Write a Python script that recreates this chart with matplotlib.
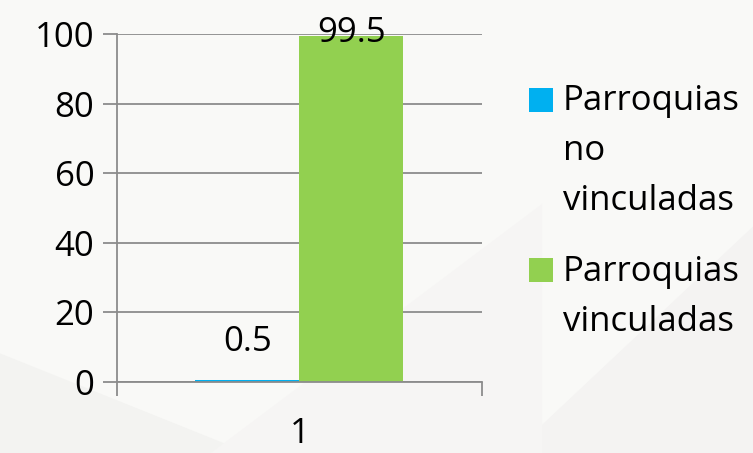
import matplotlib.pyplot as plt
import matplotlib.patches as mpatches
import numpy as np

categories = ["1"]
series_names = ["Parroquias\nno\nvinculadas", "Parroquias\nvinculadas"]
series_values = [[0.5], [99.5]]
series_colors = ["#00b0f0", "#92d050"]
y_ticks = [0, 20, 40, 60, 80, 100]

plt.rcParams["font.family"] = ["Open Sans", "DejaVu Sans"]
fig = plt.figure(figsize=(7.53, 4.53), dpi=100, facecolor="#f9f9f7")

# faint background shapes, behind everything
for pts, col in [
    ([(0.0, 0.0), (0.0, 0.22), (0.33, 0.0)], "#f3f3f1"),
    ([(0.68, 0.0), (1.0, 0.5), (1.0, 0.0)], "#f4f3f2"),
    ([(0.28, 0.0), (0.72, 0.55), (0.72, 0.0)], "#f6f5f4"),
]:
    fig.patches.append(mpatches.Polygon(pts, closed=True, transform=fig.transFigure,
                                        facecolor=col, edgecolor="none", zorder=-5))

ax = fig.add_axes([0.155, 0.157, 0.485, 0.768])
ax.set_facecolor("none")

x = np.arange(1, len(categories) + 1)
w = 0.285
for i, (vals, col) in enumerate(zip(series_values, series_colors)):
    pos = x - w / 2 + i * w
    bars = ax.bar(pos, vals, width=w, color=col, zorder=3)
    for b, v in zip(bars, vals):
        ax.text(b.get_x() + b.get_width() / 2, v + 6 if v < 90 else v - 4, f"{v:g}",
                ha="center", va="bottom", fontsize=25, zorder=4)

ax.set_xlim(0.5, len(categories) + 0.5)
ax.set_ylim(0, 100)
ax.set_yticks(y_ticks)
ax.yaxis.grid(True, color="#8c8c8c", linewidth=1.3, zorder=1)
ax.set_xticks(x)
ax.set_xticklabels(categories)
ax.set_xticks([0.5, 1.5], minor=True)
ax.tick_params(axis="x", which="major", length=0, pad=25, labelsize=25)
ax.tick_params(axis="x", which="minor", length=10, width=1.3, color="#8c8c8c", direction="out")
ax.tick_params(axis="y", length=10, width=1.3, color="#8c8c8c", labelsize=25, pad=6)
for s in ["top", "right"]:
    ax.spines[s].set_visible(False)
for s in ["left", "bottom"]:
    ax.spines[s].set_color("#8c8c8c")
    ax.spines[s].set_linewidth(1.3)
    ax.spines[s].set_zorder(5)

# legend: square marker aligned with first line of each entry
leg_tops = [0.815, 0.438]
for name, col, top in zip(series_names, series_colors, leg_tops):
    fig.patches.append(mpatches.Rectangle((0.7025, top - 0.0615), 0.0319, 0.053,
                                          transform=fig.transFigure, facecolor=col,
                                          edgecolor="none"))
    fig.text(0.7477, top, name, ha="left", va="top", fontsize=25, linespacing=1.62)

fig.savefig("out.png", dpi=100, facecolor=fig.get_facecolor())
